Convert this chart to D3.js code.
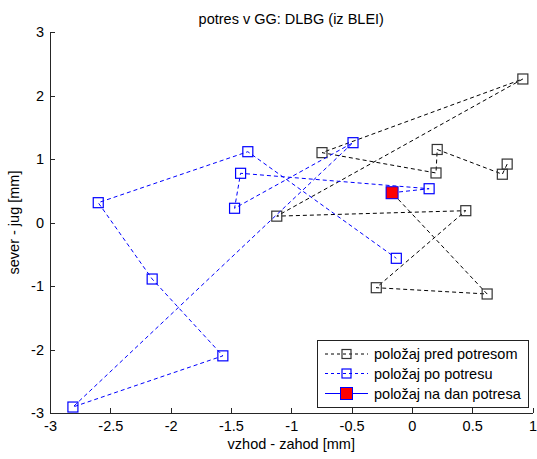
<!DOCTYPE html>
<html>
<head>
<meta charset="utf-8">
<script src="https://cdn.jsdelivr.net/npm/d3@7/dist/d3.min.js"></script>
<style>
  html, body { margin: 0; padding: 0; background: #fff; }
  svg { display: block; }
  text { font-family: "Liberation Sans", Arial, sans-serif; fill: #000; }
</style>
</head>
<body>
<svg id="chart" width="537" height="459"></svg>
<script>
// ---- data ----
const titleText = "potres v GG: DLBG (iz BLEI)";
const xLabel = "vzhod - zahod [mm]";
const yLabel = "sever - jug [mm]";

// x-ticks / y-ticks
const xTicks = [-3, -2.5, -2, -1.5, -1, -0.5, 0, 0.5, 1];
const xTickLabels = ["-3", "-2.5", "-2", "-1.5", "-1", "-0.5", "0", "0.5", "1"];
const yTicks = [-3, -2, -1, 0, 1, 2, 3];
const yTickLabels = ["-3", "-2", "-1", "0", "1", "2", "3"];

// series 1: položaj pred potresom (ends at the day of the earthquake)
const beforeX = [0.79, 0.75, 0.21, 0.20, -0.745, 0.92, -1.12, 0.447, -0.295, 0.624, -0.164];
const beforeY = [0.92, 0.76, 1.15, 0.78, 1.10, 2.26, 0.10, 0.186, -1.027, -1.126, 0.469];

// series 2: položaj po potresu (starts at the day of the earthquake)
const afterX = [-0.164, 0.143, -1.42, -1.47, -0.488, -2.81, -1.567, -2.153, -2.60, -1.36, -0.129];
const afterY = [0.469, 0.532, 0.775, 0.224, 1.257, -2.906, -2.10, -0.89, 0.312, 1.115, -0.564];

// series 3: položaj na dan potresa
const dayX = [-0.164];
const dayY = [0.469];

const legendLabels = ["položaj pred potresom", "položaj po potresu", "položaj na dan potresa"];

// ---- drawing ----
const svg = d3.select("#chart");
const x = d3.scaleLinear().domain([-3, 1]).range([50, 532.5]);
const y = d3.scaleLinear().domain([-3, 3]).range([413, 32]);
const FS = 14.5;
const axisColor = "#262626";

// axes
const gx = svg.append("g").attr("transform", `translate(0,${y(-3)})`)
  .call(d3.axisBottom(x).tickValues(xTicks).tickSizeInner(-5).tickSizeOuter(0).tickPadding(8)
    .tickFormat((d, i) => xTickLabels[i]));
const gy = svg.append("g").attr("transform", `translate(${x(-3)},0)`)
  .call(d3.axisLeft(y).tickValues(yTicks).tickSizeInner(-5).tickSizeOuter(0).tickPadding(6)
    .tickFormat((d, i) => yTickLabels[i]));
[gx, gy].forEach(g => {
  g.selectAll("path.domain").attr("stroke", axisColor).attr("shape-rendering", "crispEdges");
  g.selectAll(".tick line").attr("stroke", axisColor).attr("shape-rendering", "crispEdges");
  g.selectAll("text").attr("font-size", FS).attr("font-family", "Liberation Sans, Arial, sans-serif").attr("fill", "#000");
});

// title & labels
svg.append("text").attr("x", (x(-3) + x(1)) / 2).attr("y", 24)
  .attr("text-anchor", "middle").attr("font-size", FS).text(titleText);
svg.append("text").attr("x", (x(-3) + x(1)) / 2).attr("y", 449)
  .attr("text-anchor", "middle").attr("font-size", FS).text(xLabel);
svg.append("text").attr("transform", `translate(19,${(y(-3) + y(3)) / 2}) rotate(-90)`)
  .attr("text-anchor", "middle").attr("font-size", FS).text(yLabel);

const line = d3.line().x(d => x(d[0])).y(d => y(d[1]));
const MS = 10;

function drawSeries(xs, ys, color, markerStroke) {
  const pts = xs.map((v, i) => [v, ys[i]]);
  svg.append("path").datum(pts).attr("d", line)
    .attr("fill", "none").attr("stroke", color).attr("stroke-width", 1)
    .attr("stroke-dasharray", "4,3");
  svg.append("g").selectAll("rect").data(pts).join("rect")
    .attr("x", d => x(d[0]) - MS / 2).attr("y", d => y(d[1]) - MS / 2)
    .attr("width", MS).attr("height", MS)
    .attr("fill", "none").attr("stroke", markerStroke).attr("stroke-width", 1.2);
}

drawSeries(beforeX, beforeY, "#000", "#333");
drawSeries(afterX, afterY, "#0000ff", "#0000ff");

// day-of marker
const RS = 12;
svg.append("g").selectAll("rect").data(dayX.map((v, i) => [v, dayY[i]])).join("rect")
  .attr("x", d => x(d[0]) - RS / 2).attr("y", d => y(d[1]) - RS / 2)
  .attr("width", RS).attr("height", RS)
  .attr("fill", "#ff0000").attr("stroke", "#0000ff").attr("stroke-width", 1);

// legend
const lg = svg.append("g");
lg.append("rect").attr("x", 317.5).attr("y", 340.5).attr("width", 211).attr("height", 67)
  .attr("fill", "#fff").attr("stroke", "#222").attr("stroke-width", 1);
const rowsY = [354, 373.5, 393.5];
const lx0 = 325, lx1 = 368, lmx = 346.5;
// row 1
lg.append("line").attr("x1", lx0).attr("x2", lx1).attr("y1", rowsY[0]).attr("y2", rowsY[0])
  .attr("stroke", "#000").attr("stroke-dasharray", "3,3");
lg.append("rect").attr("x", lmx - 4.5).attr("y", rowsY[0] - 4.5).attr("width", 9).attr("height", 9)
  .attr("fill", "none").attr("stroke", "#333").attr("stroke-width", 1.2);
// row 2
lg.append("line").attr("x1", lx0).attr("x2", lx1).attr("y1", rowsY[1]).attr("y2", rowsY[1])
  .attr("stroke", "#0000ff").attr("stroke-dasharray", "3,3");
lg.append("rect").attr("x", lmx - 4.5).attr("y", rowsY[1] - 4.5).attr("width", 9).attr("height", 9)
  .attr("fill", "none").attr("stroke", "#0000ff").attr("stroke-width", 1.2);
// row 3
lg.append("line").attr("x1", lx0).attr("x2", lx1).attr("y1", rowsY[2]).attr("y2", rowsY[2])
  .attr("stroke", "#0000ff");
lg.append("rect").attr("x", lmx - 6).attr("y", rowsY[2] - 6).attr("width", 12).attr("height", 12)
  .attr("fill", "#ff0000").attr("stroke", "#0000ff");
legendLabels.forEach((t, i) => {
  lg.append("text").attr("x", 374).attr("y", rowsY[i]).attr("dy", "0.35em")
    .attr("font-size", FS).text(t);
});
</script>
</body>
</html>
